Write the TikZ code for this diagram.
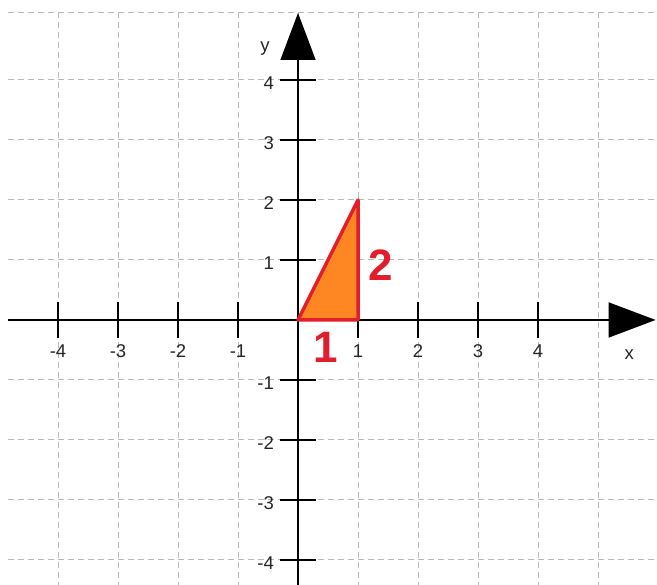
\documentclass[tikz,border=0pt]{standalone}
\usepackage{fontspec}
\setmainfont{Liberation Sans}
\usetikzlibrary{arrows.meta}
\definecolor{gridgray}{RGB}{185,185,185}
\definecolor{trired}{RGB}{226,30,45}
\definecolor{triorange}{RGB}{255,135,35}
\tikzset{
  gridline/.style={gridgray, line width=1pt, dash pattern=on 6pt off 4pt},
  axis/.style={black, line width=1.6pt, -{Triangle[length=47pt,width=35pt]}},
  tick/.style={black, line width=1.6pt},
  ticklab/.style={font=\fontsize{18.5}{18.5}\selectfont, text=black!85, inner sep=0pt},
  bigred/.style={font=\fontsize{44}{44}\selectfont\bfseries, text=trired, inner sep=0pt},
}
\begin{document}
\begin{tikzpicture}[x=60pt,y=60pt]
\useasboundingbox (-4.967,-4.417) rectangle (5.983,5.333);
\fill[white] (-4.967,-4.417) rectangle (5.983,5.333);
% grid
\foreach \i in {-4,...,5} {
  \draw[gridline] (\i,5.13) -- (\i,-4.417);
}
\foreach \j in {-4,...,4,5.13} {
  \draw[gridline] (-4.83,\j) -- (5.983,\j);
}
% triangle
\coordinate (O) at (0,0);
\coordinate (A) at (1,0);
\coordinate (B) at (1,2);
\fill[triorange] (O) -- (A) -- (B) -- cycle;
% axes
\coordinate (xs) at (-4.83,0);
\coordinate (xe) at (5.96,0);
\coordinate (ys) at (0,-4.417);
\coordinate (ye) at (0,5.117);
\draw[axis] (xs) -- (xe);
\draw[axis] (ys) -- (ye);
% ticks
\foreach \i in {-4,-3,-2,-1,1,2,3,4} {
  \draw[tick] (\i,0.3) -- (\i,-0.3);
  \node[ticklab] at (\i,-0.52) {\ifnum\i<0 -\the\numexpr-\i\relax\else\i\fi};
  \draw[tick] (-0.3,\i) -- (0.3,\i);
  \node[ticklab, anchor=east] at (-0.4,\i-0.05) {\ifnum\i<0 -\the\numexpr-\i\relax\else\i\fi};
}
\draw[trired, line width=3.5pt, line join=round] (O) -- (A) -- (B) -- cycle;
\node[ticklab] (ylab) at (-0.55,4.53) {y};
\node[ticklab] (xlab) at (5.52,-0.57) {x};
\node[bigred] (one) at (0.47,-0.45) {1};
\node[bigred] (two) at (1.38,0.92) {2};
\end{tikzpicture}
\end{document}
